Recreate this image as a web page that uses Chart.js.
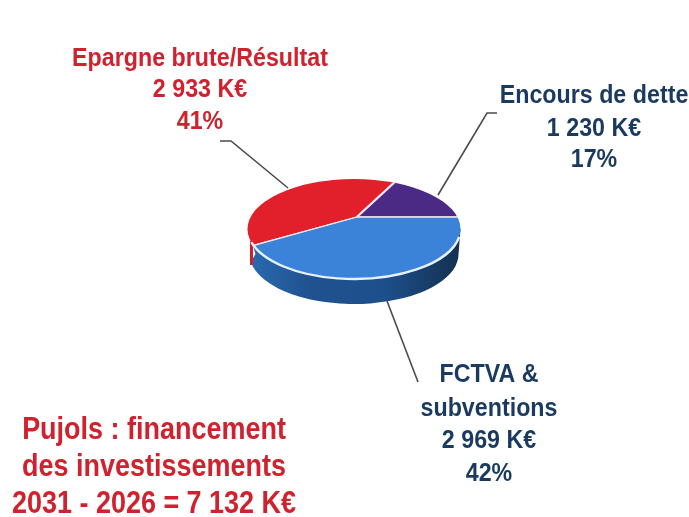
<!DOCTYPE html>
<html><head><meta charset="utf-8">
<style>html,body{margin:0;padding:0;background:#fff}canvas{display:block}</style>
<script src="https://cdn.jsdelivr.net/npm/chart.js@4"></script></head>
<body><canvas id="c" width="689" height="517"></canvas>
<script>
const categories = ["Epargne brute/Résultat", "Encours de dette", "FCTVA & subventions"];
const valuesKE = [2933, 1230, 2969];
const sliceColors = ["#e1202b", "#4b2a86", "#3b82d9"];
const labelRed = ["Epargne brute/Résultat", "2 933 K€", "41%"];
const labelDebt = ["Encours de dette", "1 230 K€", "17%"];
const labelFctva = ["FCTVA &", "subventions", "2 969 K€", "42%"];
const titleLines = ["Pujols : financement", "des investissements", "2031 - 2026 = 7 132 K€"];

const RED = "#d0222e", NAVY = "#1b3a5f";
const hub = {x: 357, y: 217};
const rim = {x: 354, y: 229, rx: 106.5, ry: 50, depth: 25};
// where each slice's radial edges meet the rim on the picture
const edges = [[[255,245],[395,182]], [[395,182],[460,217]], [[460,217],[255,245]]];
const oversize = 1.6;

function rimPath(ctx, dy) { ctx.beginPath(); ctx.ellipse(rim.x, rim.y + (dy||0), rim.rx, rim.ry, 0, 0, Math.PI*2); }

function wrapArc(arc, i) {
  if (arc._wrapped) return; arc._wrapped = true;
  const base = arc.draw.bind(arc);
  arc.draw = function(ctx, area) {
    const p = arc.getProps(['x','y','startAngle','endAngle','outerRadius'], true);
    const [a, b] = edges[i];
    const sx=(a[0]-hub.x)*oversize, sy=(a[1]-hub.y)*oversize, ex=(b[0]-hub.x)*oversize, ey=(b[1]-hub.y)*oversize;
    const ux=Math.cos(p.startAngle), uy=Math.sin(p.startAngle), vx=Math.cos(p.endAngle), vy=Math.sin(p.endAngle);
    const det=ux*vy-vx*uy;
    const r=p.outerRadius;
    const m11=(sx*vy-ex*uy)/det/r, m12=(ex*ux-sx*vx)/det/r, m21=(sy*vy-ey*uy)/det/r, m22=(ey*ux-sy*vx)/det/r;
    ctx.save();
    rimPath(ctx); ctx.clip();
    ctx.translate(hub.x, hub.y);
    ctx.transform(m11, m21, m12, m22, 0, 0);
    ctx.translate(-p.x, -p.y);
    base(ctx, area);
    ctx.restore();
  };
}

const pie3d = {
  id: 'pie3d',
  beforeDatasetsDraw(chart) {
    const ctx = chart.ctx;
    chart.getDatasetMeta(0).data.forEach(wrapArc);
    // side wall
    ctx.save();
    ctx.beginPath();
    ctx.rect(rim.x - rim.rx - 1, rim.y, rim.rx*2 + 2, rim.ry + rim.depth + 3);
    ctx.clip();
    const g = ctx.createLinearGradient(rim.x - rim.rx, 0, rim.x + rim.rx, 0);
    g.addColorStop(0, "#2a6bb0"); g.addColorStop(0.3, "#1f528f"); g.addColorStop(0.65, "#1d4f8c"); g.addColorStop(1, "#14304f");
    ctx.fillStyle = g;
    ctx.beginPath();
    ctx.moveTo(rim.x - rim.rx, rim.y);
    ctx.lineTo(rim.x - rim.rx + 8, rim.y + rim.depth);
    ctx.ellipse(rim.x, rim.y + rim.depth, rim.rx - 2, rim.ry, 0, Math.PI*0.95, Math.PI*0.02, true);
    ctx.lineTo(rim.x + rim.rx, rim.y);
    ctx.closePath(); ctx.fill();
    ctx.restore();
    // red sliver on the left of the wall
    ctx.fillStyle = "#cf1f2a";
    ctx.fillRect(250, 241, 3, 24);
  },
  afterDatasetsDraw(chart) {
    const ctx = chart.ctx;
    ctx.save();
    // light front rim
    ctx.strokeStyle = "#e8f1fb"; ctx.lineWidth = 2.4;
    ctx.beginPath(); ctx.ellipse(rim.x, rim.y, rim.rx, rim.ry, 0, 0.05*Math.PI, 0.915*Math.PI); ctx.stroke();
    // leader lines
    ctx.strokeStyle = "#4a4a50"; ctx.lineWidth = 1.6;
    [[[220,141],[231,141],[288,188]], [[497,113],[487,113],[438,195]], [[387,301],[418,382]]].forEach(l => {
      ctx.beginPath(); l.forEach((p,i)=> i?ctx.lineTo(p[0],p[1]):ctx.moveTo(p[0],p[1])); ctx.stroke();
    });
    // texts, condensed horizontally
    ctx.textAlign = "center"; ctx.textBaseline = "alphabetic";
    const fam = '"Liberation Sans",sans-serif';
    const block = (lines, cx, ys, size, col, sx) => {
      ctx.font = 'bold ' + size + 'px ' + fam; ctx.fillStyle = col;
      lines.forEach((t,i)=>{ ctx.save(); ctx.translate(cx, ys[i]); ctx.scale(sx, 1); ctx.fillText(t, 0, 0); ctx.restore(); });
    };
    block(labelRed, 200, [66,97,129], 25, RED, 0.93);
    block(labelDebt, 594, [103,136,167], 25, NAVY, 0.93);
    block(labelFctva, 489, [382,416,448,481], 25, NAVY, 0.93);
    block(titleLines, 154, [439,476,513], 31, RED, 0.87);
    ctx.restore();
  }
};

new Chart(document.getElementById('c'), {
  type: 'pie',
  data: { labels: categories, datasets: [{ data: valuesKE, backgroundColor: sliceColors, borderColor: "#f3e9ee", borderWidth: 4, clip: false }] },
  options: { responsive: false, animation: false, plugins: { legend: {display:false}, tooltip:{enabled:false} } },
  plugins: [pie3d]
});
</script></body></html>
